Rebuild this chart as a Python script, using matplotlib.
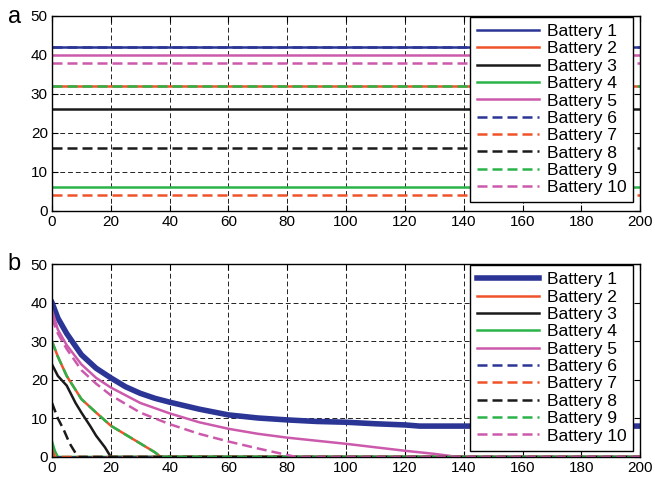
import matplotlib
matplotlib.use("Agg")
import matplotlib.pyplot as plt

plt.rcParams['font.family'] = ['Liberation Sans', 'DejaVu Sans']

labels = [f"Battery {i}" for i in range(1, 11)]
colors = ['#2b3595', '#f0522a', '#1a1a1a', '#2bb34a', '#cc5aac',
          '#2b3595', '#f0522a', '#1a1a1a', '#2bb34a', '#cc5aac']
styles = ['-'] * 5 + ['--'] * 5

# Panel a: constant levels
t_a = [0, 200]
levels_a = [42, 32, 26, 6, 40, 42, 4, 16, 32, 38]

# Panel b: decaying curves (time, value)
b1_t = [0, 2, 5, 10, 15, 20, 25, 30, 35, 40, 50, 60, 70, 80, 90, 100, 110, 120, 125, 200]
b1_v = [40, 36, 32, 26.5, 23, 20.5, 18.2, 16.5, 15.2, 14.2, 12.4, 10.9, 10.1, 9.6, 9.2, 9.0, 8.6, 8.3, 8.0, 8.0]
b2_t = [0, 2, 5, 10, 15, 20, 25, 30, 35, 37, 200]
b2_v = [30, 26, 21, 15, 11.5, 8.1, 5.8, 3.5, 1.2, 0, 0]
b3_t = [0, 2, 5, 8, 10, 13, 15, 18, 20, 200]
b3_v = [24, 21, 18.5, 14, 11.5, 8, 5.5, 2.5, 0, 0]
b4_t = [0, 1, 2, 200]
b4_v = [4, 1.5, 0, 0]
b5_t = [0, 2, 5, 10, 15, 20, 30, 40, 50, 60, 70, 80, 90, 100, 110, 120, 130, 138, 200]
b5_v = [38, 33, 29, 24, 20.5, 18, 14, 11.3, 9.0, 7.3, 6.0, 5.0, 4.2, 3.4, 2.5, 1.6, 0.8, 0, 0]
b6_t = [0, 200]
b6_v = [0, 0]
b7_t = [0, 1, 200]
b7_v = [2, 0, 0]
b8_t = [0, 2, 4, 6, 8, 9, 200]
b8_v = [14, 10, 7, 3.5, 1, 0, 0]
b9_t = b2_t
b9_v = b2_v
b10_t = [0, 2, 5, 10, 15, 20, 30, 40, 50, 60, 70, 80, 83, 200]
b10_v = [36, 32, 28, 22.5, 19, 16, 11.5, 8.5, 6.0, 4.0, 2.2, 0.5, 0, 0]

series_b = [(b1_t, b1_v), (b2_t, b2_v), (b3_t, b3_v), (b4_t, b4_v), (b5_t, b5_v),
            (b6_t, b6_v), (b7_t, b7_v), (b8_t, b8_v), (b9_t, b9_v), (b10_t, b10_v)]

xticks = list(range(0, 201, 20))
yticks = list(range(0, 51, 10))

fig = plt.figure(figsize=(6.55, 4.82), dpi=100)
ax_a = fig.add_axes([0.0794, 0.563, 0.898, 0.404])
ax_b = fig.add_axes([0.0794, 0.052, 0.898, 0.400])

def style_axes(ax):
    ax.set_xlim(0, 200)
    ax.set_ylim(0, 50)
    ax.set_xticks(xticks)
    ax.set_yticks(yticks)
    ax.tick_params(direction='in', length=4, width=0.8, labelsize=11,
                   top=True, right=True, pad=3)
    ax.grid(True, color='#222222', linestyle=(0, (5, 3)), linewidth=0.7)
    for s in ax.spines.values():
        s.set_linewidth(1.0)
        s.set_color('black')

def add_legend(ax):
    leg = ax.legend(loc='upper right', bbox_to_anchor=(0.988, 0.995), fontsize=12.6,
                    labelspacing=0.12, handlelength=3.5, handletextpad=0.45,
                    borderpad=0.4, fancybox=False, framealpha=1, edgecolor='black',
                    borderaxespad=0)
    leg.get_frame().set_linewidth(1.0)
    return leg

for i in range(10):
    kw = dict(dashes=(4, 2)) if styles[i] == '--' else {}
    ax_a.plot(t_a, [levels_a[i]] * 2, color=colors[i], linestyle=styles[i],
              linewidth=1.8, label=labels[i], **kw)
style_axes(ax_a)
add_legend(ax_a)

for i in range(10):
    t, v = series_b[i]
    lw = 4.0 if i == 0 else 1.8
    kw = dict(dashes=(4, 2)) if styles[i] == '--' else {}
    ax_b.plot(t, v, color=colors[i], linestyle=styles[i], linewidth=lw, label=labels[i], **kw)
style_axes(ax_b)
add_legend(ax_b)

fig.text(0.012, 0.965, 'a', fontsize=17, va='center')
fig.text(0.012, 0.452, 'b', fontsize=17, va='center')

fig.savefig('out.png', dpi=100)
